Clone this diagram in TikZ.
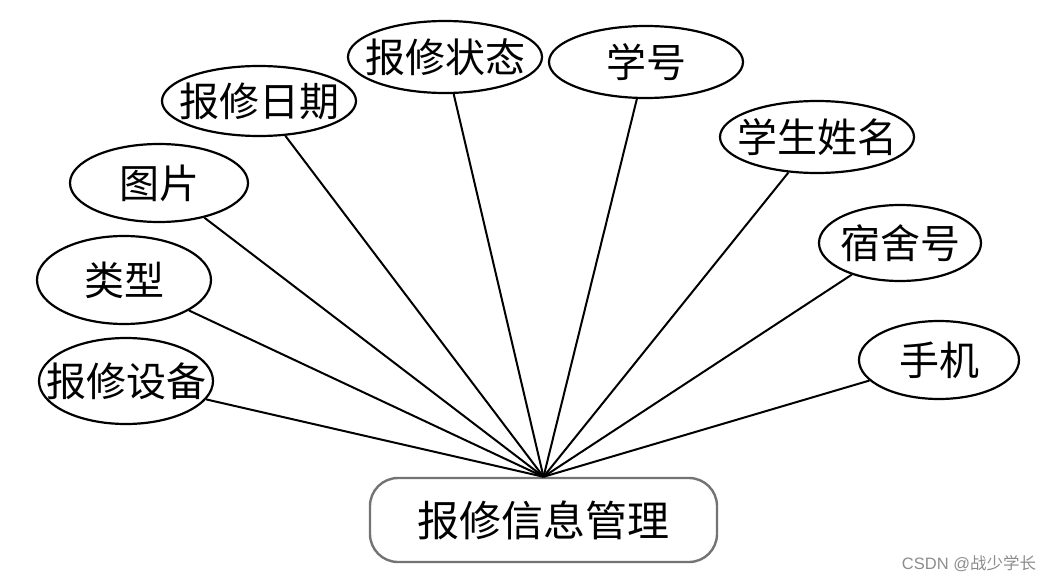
\documentclass[tikz,border=0pt]{standalone}
\usepackage{fontspec}
\newfontfamily\cjk{Noto Sans CJK SC}
\newfontfamily\wmfont{Liberation Sans}
\usetikzlibrary{shapes.geometric}

\begin{document}
\begin{tikzpicture}[
  x=1pt, y=-1pt,
  attr/.style={ellipse, draw, line width=2.2pt, inner xsep=-20pt, inner ysep=0pt, font=\cjk\fontsize{40}{44}\selectfont},
  mgr/.style={rectangle, draw=black!55, line width=2.4pt, rounded corners=28pt, minimum width=347pt, minimum height=84pt, font=\cjk\fontsize{42}{46}\selectfont},
  link/.style={line width=2pt}
]
\useasboundingbox (0,0) rectangle (1053,583);
\node[mgr] (info) at (543.5,520) {报修信息管理};

\node[attr, minimum width=194pt, minimum height=72pt] (zt) at (445,57) {报修状态};
\node[attr, minimum width=194pt, minimum height=72pt] (xh) at (646,62) {学号};
\node[attr, minimum width=194pt, minimum height=70pt] (rq) at (259,101) {报修日期};
\node[attr, minimum width=194pt, minimum height=72pt] (xm) at (817,137) {学生姓名};
\node[attr, minimum width=178pt, minimum height=78pt] (tp) at (159,183) {图片};
\node[attr, minimum width=162pt, minimum height=76pt] (ssh) at (900,243) {宿舍号};
\node[attr, minimum width=174pt, minimum height=88pt] (lx) at (124,280) {类型};
\node[attr, minimum width=160pt, minimum height=78pt] (sj) at (939,360) {手机};
\node[attr, minimum width=174pt, minimum height=86pt] (sb) at (126,381) {报修设备};

\foreach \a in {zt,xh,rq,xm,tp,ssh,lx,sj,sb}
  \draw[link] (\a) -- (info.north);

\node[text=black!45, font=\wmfont\fontsize{16.5}{18}\selectfont] (wm) at (969,564) {CSDN @{\cjk 战少学长}};
\end{tikzpicture}
\end{document}
